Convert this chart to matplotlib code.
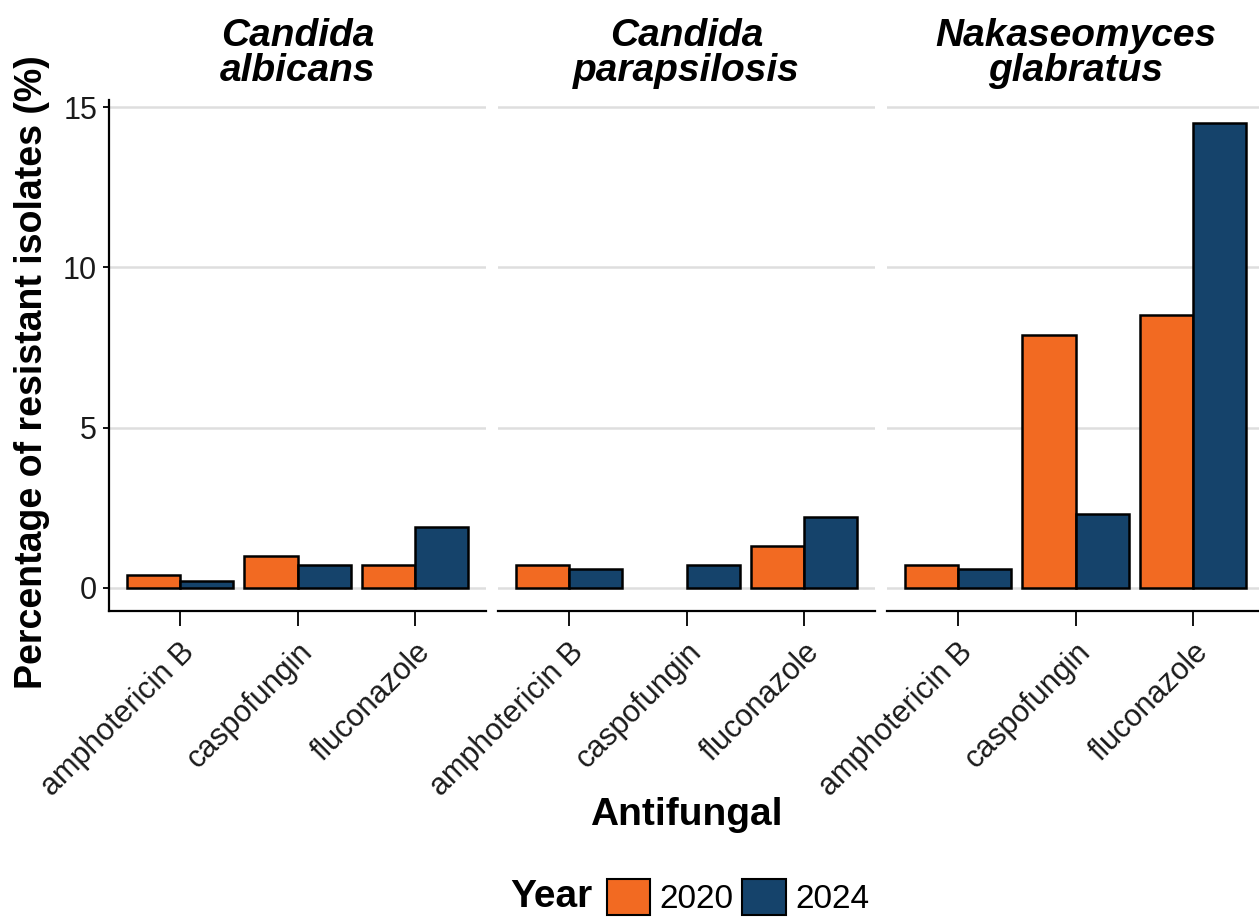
import matplotlib.pyplot as plt
import numpy as np
from matplotlib.patches import Patch
from matplotlib.offsetbox import HPacker

plt.rcParams["font.family"] = ["Liberation Sans", "DejaVu Sans"]

species = ["Candida\nalbicans", "Candida\nparapsilosis", "Nakaseomyces\nglabratus"]
antifungals = ["amphotericin B", "caspofungin", "fluconazole"]
years = ["2020", "2024"]
colors = {"2020": "#F26A22", "2024": "#15436B"}

# % resistant, per species, per antifungal (None = no bar)
vals_2020 = [
    [0.4, 1.0, 0.7],
    [0.7, None, 1.3],
    [0.7, 7.9, 8.5],
]
vals_2024 = [
    [0.2, 0.7, 1.9],
    [0.6, 0.7, 2.2],
    [0.6, 2.3, 14.5],
]

W, H = 1259, 922
fig = plt.figure(figsize=(W / 100, H / 100), dpi=100)
px = 72 / 100  # points per pixel

panel_x = [109, 498, 887]
panel_w = 377
top_px, bot_px = 100, 611
width = 0.45
x = np.arange(1, 4)

for k, name in enumerate(species):
    ax = fig.add_axes([panel_x[k] / W, 1 - bot_px / H, panel_w / W, (bot_px - top_px) / H])
    for j, (yr, data) in enumerate(zip(years, [vals_2020, vals_2024])):
        v = data[k]
        xs = [x[i] + (j - 0.5) * width for i in range(3) if v[i] is not None]
        hs = [v[i] for i in range(3) if v[i] is not None]
        ax.bar(xs, hs, width=width, color=colors[yr], edgecolor="black", linewidth=1.8, zorder=3)
    ax.set_xlim(0.4, 3.6)
    ax.set_ylim(-0.725, 15.225)
    ax.set_yticks([0, 5, 10, 15])
    ax.yaxis.grid(True, color="#DEDEDE", linewidth=1.8, zorder=0)
    ax.set_axisbelow(True)
    for s in ["top", "right"]:
        ax.spines[s].set_visible(False)
    ax.spines["bottom"].set_linewidth(1.6)
    ax.spines["left"].set_linewidth(1.6)
    ax.set_xticks(x)
    ax.set_xticklabels(antifungals, rotation=45, ha="right", va="top",
                       rotation_mode="anchor", fontsize=22, color="#1a1a1a")
    ax.tick_params(axis="x", length=15 * px, width=1.3, pad=11 * px)
    if k == 0:
        ax.tick_params(axis="y", labelsize=22, length=6 * px, width=1.3, pad=6 * px,
                       labelcolor="#1a1a1a")
    else:
        ax.spines["left"].set_visible(False)
        ax.tick_params(axis="y", left=False, labelleft=False)
    ax.set_title(name, fontsize=28, fontweight="bold", fontstyle="italic", pad=14, linespacing=0.95)

fig.text(32 / W, 1 - 372 / H, "Percentage of resistant isolates (%)", rotation=90,
         ha="center", va="center", fontsize=27, fontweight="bold")
fig.text(686 / W, 1 - 815 / H, "Antifungal", ha="center", va="center", fontsize=28, fontweight="bold")

handles = [Patch(facecolor=colors[y], edgecolor="black", linewidth=1.5, label=y) for y in years]
leg = fig.legend(handles=handles, title="Year", loc="center", bbox_to_anchor=(690 / W, 1 - 897 / H),
                 ncol=2, frameon=False, fontsize=24, handlelength=1.3, handleheight=1.3,
                 handletextpad=0.3, columnspacing=0.25, borderaxespad=0)
leg.get_title().set_fontweight("bold")
leg.get_title().set_fontsize(28)
# title to the left of the entries, as in ggplot
box = leg._legend_box
box.__class__ = HPacker
box.sep = 10
box.align = "center"

fig.savefig("out.png", dpi=100)
